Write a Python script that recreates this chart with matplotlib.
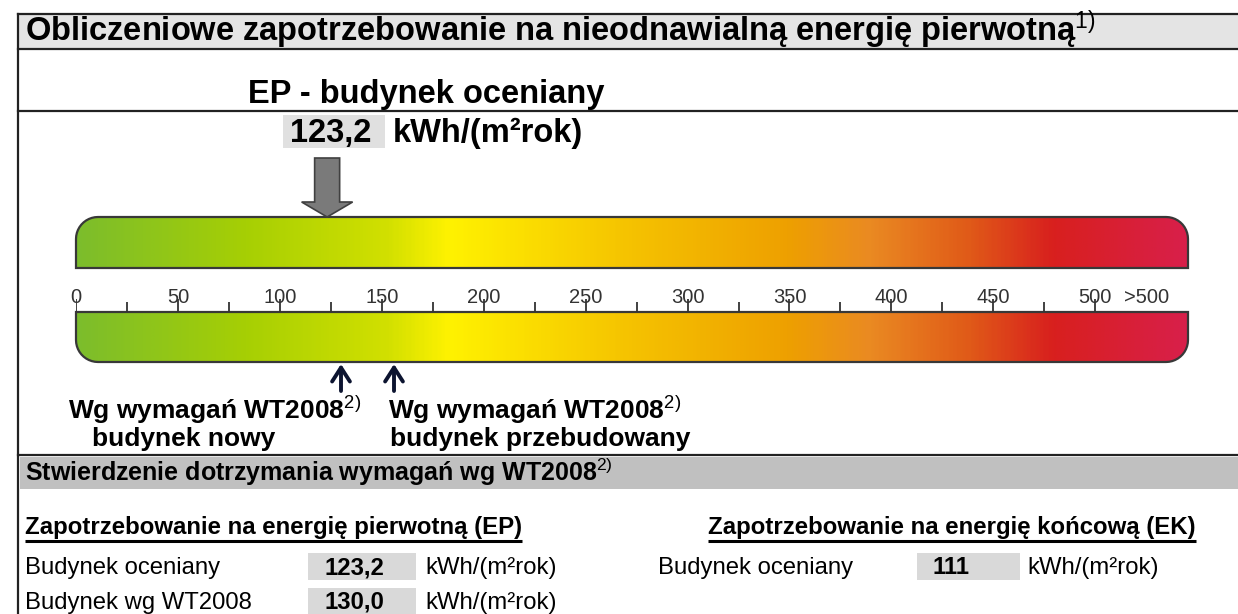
import numpy as np
import matplotlib.pyplot as plt
from matplotlib.path import Path
from matplotlib.patches import PathPatch, Rectangle, Polygon
from matplotlib.colors import LinearSegmentedColormap

plt.rcParams['font.family'] = ['Liberation Sans', 'DejaVu Sans']
plt.rcParams['mathtext.fontset'] = 'custom'
plt.rcParams['mathtext.rm'] = 'Liberation Sans'
plt.rcParams['mathtext.bf'] = 'Liberation Sans:bold'
plt.rcParams['mathtext.it'] = 'Liberation Sans:italic'

# ---- data read from the certificate ----
major_ticks = [0, 50, 100, 150, 200, 250, 300, 350, 400, 450, 500]
major_labels = ['0', '50', '100', '150', '200', '250', '300', '350', '400', '450', '500']
minor_ticks = [25, 75, 125, 175, 225, 275, 325, 375, 425, 475]
overflow_label = '>500'
overflow_pos = 525

ep_evaluated = 123.2          # EP - budynek oceniany
ep_wt2008 = 130.0             # EP wg WT2008 (budynek nowy)
wt2008_markers = [130.0, 156.0]
ek_evaluated = 111

unit = 'kWh/(m²rok)'

# gradient of the scale bar (position 0..1, colour)
grad_stops = [(0.00, '#7cbd2c'), (0.15, '#a6cf04'), (0.28, '#d2e000'),
              (0.335, '#fff200'), (0.50, '#f5c200'), (0.64, '#eea000'),
              (0.715, '#ea8a22'), (0.805, '#e05a18'), (0.88, '#d8201e'),
              (1.00, '#d81f4a')]

# ---- layout (pixels) ----
W, H = 1238, 614
BAR_L, BAR_R = 76, 1188
SCALE_MAX = 545.5                 # value at the right end of the bar
PPU = (BAR_R - BAR_L) / SCALE_MAX
SC_TOP, SC_BOT = 150, 400

fig = plt.figure(figsize=(W / 100, H / 100), dpi=100)
ax = fig.add_axes([0, 0, 1, 1])
ax.set_xlim(0, W)
ax.set_ylim(H, 0)
ax.axis('off')

# frame and header rows
FR_L = 18
ax.add_patch(Rectangle((FR_L, 14), W - FR_L, 35, facecolor='#e4e4e4', edgecolor='none'))
ax.add_patch(Rectangle((FR_L + 2, 457), W - FR_L - 2, 32, facecolor='#c0c0c0', edgecolor='none'))
for y in [14, 49, 111, 455]:
    ax.plot([FR_L, W], [y, y], color='#222222', lw=1.6)
ax.plot([FR_L, FR_L], [14, H], color='#222222', lw=1.6)

ax.text(25, 41, 'Obliczeniowe zapotrzebowanie na nieodnawialną energię pierwotną$^{1)}$',
        fontsize=23.5, fontweight='bold', va='baseline')
ax.text(248, 103, 'EP - budynek oceniany', fontsize=23.5, fontweight='bold', va='baseline')
ax.add_patch(Rectangle((283, 115), 102, 33, facecolor='#e0e0e0', edgecolor='none'))
ax.text(290, 142, f'{ep_evaluated:.1f}'.replace('.', ','), fontsize=23.5,
        fontweight='bold', va='baseline')
ax.text(393, 142, unit, fontsize=23.5, fontweight='bold', va='baseline')

# ---- scale axes: x in kWh/(m2 rok), y in pixels ----
sc = fig.add_axes([BAR_L / W, 1 - SC_BOT / H, (BAR_R - BAR_L) / W, (SC_BOT - SC_TOP) / H])
sc.axis('off')

cmap = LinearSegmentedColormap.from_list('ep', grad_stops)
grad = np.linspace(0, 1, 600)[None, :]


def bar_path(ytop, ybot, r, rounded_top):
    rx, ry = r / PPU, r
    x0, x1 = 0, SCALE_MAX
    t = np.linspace(0, np.pi / 2, 12)
    if rounded_top:
        left = np.c_[x0 + rx - rx * np.cos(t), ytop + ry - ry * np.sin(t)]
        right = np.c_[x1 - rx + rx * np.sin(t), ytop + ry - ry * np.cos(t)]
        pts = np.vstack([[x0, ybot], left, right, [x1, ybot], [x0, ybot]])
    else:
        right = np.c_[x1 - rx + rx * np.cos(t), ybot - ry + ry * np.sin(t)]
        left = np.c_[x0 + rx - rx * np.sin(t), ybot - ry + ry * np.cos(t)]
        pts = np.vstack([[x0, ytop], [x1, ytop], right, left, [x0, ytop]])
    return Path(pts, closed=True)


for ytop, ybot, top in [(217, 268, True), (312, 362, False)]:
    p = bar_path(ytop, ybot, 22, top)
    img = sc.imshow(grad, cmap=cmap, extent=(0, SCALE_MAX, ybot, ytop),
                    aspect='auto', interpolation='bilinear')
    patch = PathPatch(p, facecolor='none', edgecolor='#383838', lw=1.6, clip_on=False)
    sc.add_patch(patch)
    img.set_clip_path(patch)
sc.set_xlim(0, SCALE_MAX)
sc.set_ylim(SC_BOT, SC_TOP)

# ticks and labels
sc.vlines(major_ticks, 299, 312, color='#333333', lw=1.3)
sc.vlines(minor_ticks, 302, 312, color='#333333', lw=1.3)
for v, lab in zip(major_ticks, major_labels):
    sc.text(v, 303, lab, fontsize=14.5, color='#333333', ha='center', va='baseline')
sc.text(overflow_pos, 303, overflow_label, fontsize=14.5, color='#333333',
        ha='center', va='baseline')

# grey arrow of the evaluated building
sw, hw = 12.5 / PPU, 25.5 / PPU
v = ep_evaluated
sc.add_patch(Polygon([(v - sw, 158), (v + sw, 158), (v + sw, 202), (v + hw, 202),
                      (v, 217), (v - hw, 202), (v - sw, 202)], closed=True,
                     facecolor='#7a7a7a', edgecolor='#404040', lw=1.2, clip_on=False))

# WT2008 markers
for m in wt2008_markers:
    sc.annotate('', xy=(m, 364), xytext=(m, 391),
                arrowprops=dict(arrowstyle='->,head_length=0.5,head_width=0.32',
                                lw=2.8, color='#0c1430', shrinkA=0, shrinkB=0,
                                mutation_scale=20))

ax.text(68, 419, 'Wg wymagań WT2008$^{2)}$', fontsize=19, fontweight='bold', va='baseline')
ax.text(92, 446, 'budynek nowy', fontsize=19, fontweight='bold', va='baseline')
ax.text(388, 419, 'Wg wymagań WT2008$^{2)}$', fontsize=19, fontweight='bold', va='baseline')
ax.text(390, 446, 'budynek przebudowany', fontsize=19, fontweight='bold', va='baseline')

# ---- compliance section ----
ax.text(25, 481, 'Stwierdzenie dotrzymania wymagań wg WT2008$^{2)}$', fontsize=18,
        fontweight='bold', va='baseline')

fig.canvas.draw()
renderer = fig.canvas.get_renderer()
inv = ax.transData.inverted()
for x, txt in [(25, 'Zapotrzebowanie na energię pierwotną (EP)'),
               (708, 'Zapotrzebowanie na energię końcową (EK)')]:
    t = ax.text(x, 534, txt, fontsize=17.3, fontweight='bold', va='baseline')
    bb = t.get_window_extent(renderer)
    x0, _ = inv.transform((bb.x0, bb.y0))
    x1, _ = inv.transform((bb.x1, bb.y0))
    ax.plot([x0, x1], [541, 541], color='black', lw=2.2, solid_capstyle='butt')

rows = [
    (25, 574, 'Budynek oceniany', 308, f'{ep_evaluated:.1f}'.replace('.', ','), 425),
    (25, 609, 'Budynek wg WT2008', 308, f'{ep_wt2008:.1f}'.replace('.', ','), 425),
    (658, 574, 'Budynek oceniany', 917, f'{ek_evaluated}', 1027),
]
for lx, by, label, bx, val, ux in rows:
    ax.text(lx, by, label, fontsize=17.2, va='baseline')
    bw = 108 if bx < 600 else 103
    ax.add_patch(Rectangle((bx, by - 21), bw, 27, facecolor='#d9d9d9', edgecolor='none'))
    ax.text(bx + 16, by, val, fontsize=17.2, fontweight='bold', va='baseline')
    ax.text(ux, by, unit, fontsize=17.2, va='baseline')

fig.savefig('out.png', dpi=100)
